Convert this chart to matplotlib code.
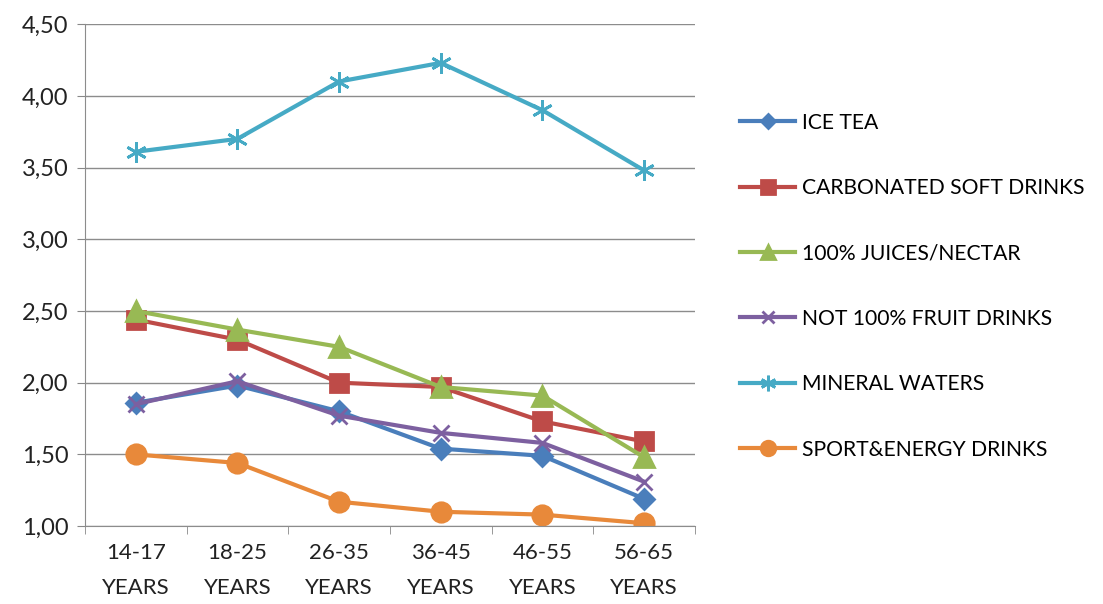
import matplotlib.pyplot as plt
from matplotlib.ticker import FixedLocator, FuncFormatter
import numpy as np

plt.rcParams['font.family'] = ['Lato', 'DejaVu Sans']

ages = ['14-17\nYEARS', '18-25\nYEARS', '26-35\nYEARS', '36-45\nYEARS', '46-55\nYEARS', '56-65\nYEARS']
ice_tea = [1.86, 1.98, 1.80, 1.54, 1.49, 1.19]
carbonated = [2.44, 2.30, 2.00, 1.97, 1.73, 1.59]
juices = [2.50, 2.37, 2.25, 1.97, 1.91, 1.48]
not_100 = [1.85, 2.01, 1.77, 1.65, 1.58, 1.31]
mineral = [3.61, 3.70, 4.10, 4.23, 3.90, 3.48]
sport = [1.50, 1.44, 1.17, 1.10, 1.08, 1.02]

series = [
    ('ICE TEA', ice_tea, '#4A7EBB', 'D', 10),
    ('CARBONATED SOFT DRINKS', carbonated, '#BE4B48', 's', 13),
    ('100% JUICES/NECTAR', juices, '#98B954', '^', 14),
    ('NOT 100% FRUIT DRINKS', not_100, '#7D60A0', 'x', 12),
    ('MINERAL WATERS', mineral, '#46AAC5', (6, 2, 0), 15),
    ('SPORT&ENERGY DRINKS', sport, '#E8893A', 'o', 14),
]

fig = plt.figure(figsize=(11.03, 6.04), dpi=100)
ax = fig.add_axes([0.077, 0.129, 0.553, 0.831])

x = np.arange(len(ages))
for name, vals, col, mk, ms in series:
    ax.plot(x, vals, color=col, lw=3, marker=mk, markersize=ms,
            markerfacecolor=col, markeredgecolor=col, mew=2, label=name,
            solid_joinstyle='round')

ax.set_xlim(-0.5, 5.5)
ax.set_ylim(1.0, 4.5)
ax.set_yticks(np.arange(1.0, 4.51, 0.5))
ax.yaxis.set_major_formatter(FuncFormatter(lambda v, p: f"{v:.2f}".replace('.', ',')))
ax.set_xticks(x)
ax.set_xticklabels(ages, linespacing=1.95)
ax.xaxis.set_minor_locator(FixedLocator(np.arange(-0.5, 5.6, 1.0)))
ax.tick_params(axis='x', which='major', length=0, pad=12, labelsize=16, colors='#222222')
ax.tick_params(axis='x', which='minor', length=6, color='#888888', direction='out')
ax.tick_params(axis='y', length=6, color='#888888', labelsize=17, labelcolor='#222222', pad=6)
ax.grid(axis='y', color='#8c8c8c', lw=1)
ax.set_axisbelow(True)
for s in ['top', 'right']:
    ax.spines[s].set_visible(False)
for s in ['left', 'bottom']:
    ax.spines[s].set_color('#8c8c8c')

handles, labels = ax.get_legend_handles_labels()
fig.legend(handles, labels, loc='upper left', bbox_to_anchor=(0.654, 0.845),
           frameon=False, fontsize=15.2, handlelength=2.6, handletextpad=0.3,
           labelspacing=2.15, markerscale=0.75)

fig.savefig('out.png', dpi=100)
